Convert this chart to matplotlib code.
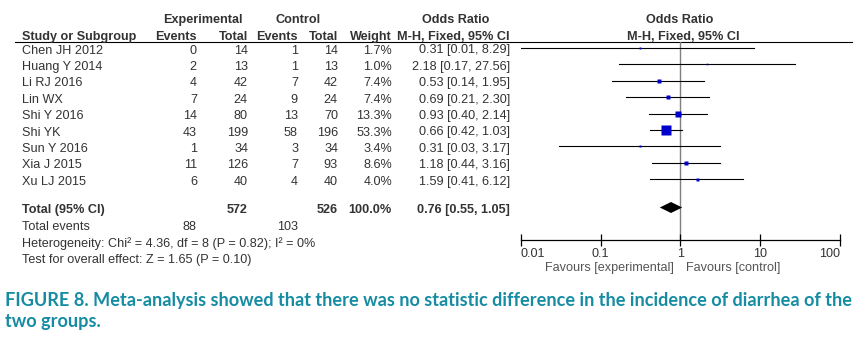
import numpy as np
import matplotlib
matplotlib.use("Agg")
import matplotlib.pyplot as plt
from matplotlib.ticker import NullLocator

# study-level data
studies = ["Chen JH 2012", "Huang Y 2014", "Li RJ 2016", "Lin WX", "Shi Y 2016",
           "Shi YK", "Sun Y 2016", "Xia J 2015", "Xu LJ 2015"]
exp_events = [0, 2, 4, 7, 14, 43, 1, 11, 6]
exp_total = [14, 13, 42, 24, 80, 199, 34, 126, 40]
ctl_events = [1, 1, 7, 9, 13, 58, 3, 7, 4]
ctl_total = [14, 13, 42, 24, 70, 196, 34, 93, 40]
weight = [1.7, 1.0, 7.4, 7.4, 13.3, 53.3, 3.4, 8.6, 4.0]
odds = [0.31, 2.18, 0.53, 0.69, 0.93, 0.66, 0.31, 1.18, 1.59]
ci_lo = [0.01, 0.17, 0.14, 0.21, 0.40, 0.42, 0.03, 0.44, 0.41]
ci_hi = [8.29, 27.56, 1.95, 2.30, 2.14, 1.03, 3.17, 3.16, 6.12]

# pooled result
pooled_or, pooled_lo, pooled_hi = 0.76, 0.55, 1.05
total_exp, total_ctl, total_weight = 572, 526, 100.0
events_exp, events_ctl = 88, 103
heterogeneity = "Heterogeneity: Chi² = 4.36, df = 8 (P = 0.82); I² = 0%"
overall = "Test for overall effect: Z = 1.65 (P = 0.10)"
axis_ticks = [0.01, 0.1, 1, 10, 100]
axis_labels = ["0.01", "0.1", "1", "10", "100"]
caption = ["FIGURE 8. Meta-analysis showed that there was no statistic difference in the incidence of diarrhea of the",
           "two groups."]

W, H = 862, 345
FS = 9.1
TXT = "#333333"
TEAL = "#168ca3"
plt.rcParams["font.family"] = ["Liberation Sans", "DejaVu Sans"]

fig = plt.figure(figsize=(W / 100, H / 100), dpi=100)
bg = fig.add_axes([0, 0, 1, 1])
bg.set_xlim(0, W)
bg.set_ylim(H, 0)
bg.axis("off")


def put(x, y, s, ha="left", bold=False, color=TXT):
    bg.text(x, y + 4, s, ha=ha, va="baseline", fontsize=FS, color=color,
            fontweight="bold" if bold else "normal")


# column right edges (px)
COL_EE, COL_ET, COL_CE, COL_CT, COL_W, COL_OR = 197, 248, 298, 338, 392, 510
X_STUDY = 22
ROW0, STEP = 49.5, 16.4
rows = [ROW0 + STEP * i for i in range(len(studies))]
Y_TOTAL = 209
Y_EVENTS, Y_HET, Y_TEST = 226, 243, 259.5

# headers
put((157 + COL_ET) / 2, 19, "Experimental", ha="center", bold=True)
put((258 + COL_CT) / 2, 19, "Control", ha="center", bold=True)
put(456, 19, "Odds Ratio", ha="center", bold=True)
put(680, 19, "Odds Ratio", ha="center", bold=True)
put(X_STUDY, 36, "Study or Subgroup", bold=True)
for x, s in [(COL_EE, "Events"), (COL_ET, "Total"), (COL_CE, "Events"),
             (COL_CT, "Total"), (COL_W, "Weight"), (COL_OR, "M-H, Fixed, 95% CI")]:
    put(x, 36, s, ha="right", bold=True)
put(683, 36, "M-H, Fixed, 95% CI", ha="center", bold=True)
bg.plot([15, 852], [42, 42], color="black", lw=0.8)

# study rows
for i, y in enumerate(rows):
    put(X_STUDY, y, studies[i])
    put(COL_EE, y, str(exp_events[i]), ha="right")
    put(COL_ET, y, str(exp_total[i]), ha="right")
    put(COL_CE, y, str(ctl_events[i]), ha="right")
    put(COL_CT, y, str(ctl_total[i]), ha="right")
    put(COL_W, y, f"{weight[i]:.1f}%", ha="right")
    put(COL_OR, y, f"{odds[i]:.2f} [{ci_lo[i]:.2f}, {ci_hi[i]:.2f}]", ha="right")

# totals
put(X_STUDY, Y_TOTAL, "Total (95% CI)", bold=True)
put(COL_ET, Y_TOTAL, str(total_exp), ha="right", bold=True)
put(COL_CT, Y_TOTAL, str(total_ctl), ha="right", bold=True)
put(COL_W, Y_TOTAL, f"{total_weight:.1f}%", ha="right", bold=True)
put(COL_OR, Y_TOTAL, f"{pooled_or:.2f} [{pooled_lo:.2f}, {pooled_hi:.2f}]", ha="right", bold=True)
put(X_STUDY, Y_EVENTS, "Total events")
put(COL_EE, Y_EVENTS, str(events_exp), ha="right")
put(COL_CE, Y_EVENTS, str(events_ctl), ha="right")
put(X_STUDY, Y_HET, heterogeneity)
put(X_STUDY, Y_TEST, overall)

# forest panel, y in px units
AX_L, AX_R, AX_TOP, AX_BOT = 521, 840, 42, 240
fa = fig.add_axes([AX_L / W, 1 - AX_BOT / H, (AX_R - AX_L) / W, (AX_BOT - AX_TOP) / H])
fa.set_xscale("log")
fa.set_xlim(axis_ticks[0], axis_ticks[-1])
fa.set_ylim(AX_BOT, AX_TOP)
fa.patch.set_visible(False)
for side in ["top", "left", "right"]:
    fa.spines[side].set_visible(False)
fa.spines["bottom"].set_linewidth(0.9)
fa.set_yticks([])
fa.xaxis.set_minor_locator(NullLocator())
fa.set_xticks(axis_ticks)
fa.set_xticklabels(axis_labels)
fa.tick_params(axis="x", direction="inout", length=8, width=0.9, pad=2,
               labelsize=FS, labelcolor=TXT)
tl = fa.get_xticklabels()
tl[0].set_horizontalalignment("left")
tl[-1].set_horizontalalignment("right")

fa.plot([1, 1], [AX_TOP, AX_BOT], color="#7f7f7f", lw=1.0, zorder=1)
mark_y = [y - 1.5 for y in rows]
for i, y in enumerate(mark_y):
    fa.plot([ci_lo[i], ci_hi[i]], [y, y], color="black", lw=0.8, zorder=2)
    fa.plot(odds[i], y, marker="s", ms=max(1.2, 1.08 * np.sqrt(weight[i])),
            color="#0000cc", mec="none", zorder=3)
yd, hd = Y_TOTAL - 1.5, 5.5
fa.fill([pooled_lo, pooled_or, pooled_hi, pooled_or], [yd, yd - hd, yd, yd + hd],
        color="black", lw=0, zorder=3)

put(674, 267, "Favours [experimental]", ha="right", color="#555555")
put(686, 267, "Favours [control]", color="#555555")

# caption, sized so the first line spans the width
cap_kw = dict(color=TEAL, fontweight="bold", va="baseline",
              family=["Lato", "DejaVu Sans"])
t1 = bg.text(5, 306, caption[0], fontsize=12, **cap_kw)
t2 = bg.text(5, 327, caption[1], fontsize=12, **cap_kw)
fig.canvas.draw()
w1 = t1.get_window_extent().width
fs = 12 * 840 / w1
t1.set_fontsize(fs)
t2.set_fontsize(fs)

fig.savefig("out.png", dpi=100)
